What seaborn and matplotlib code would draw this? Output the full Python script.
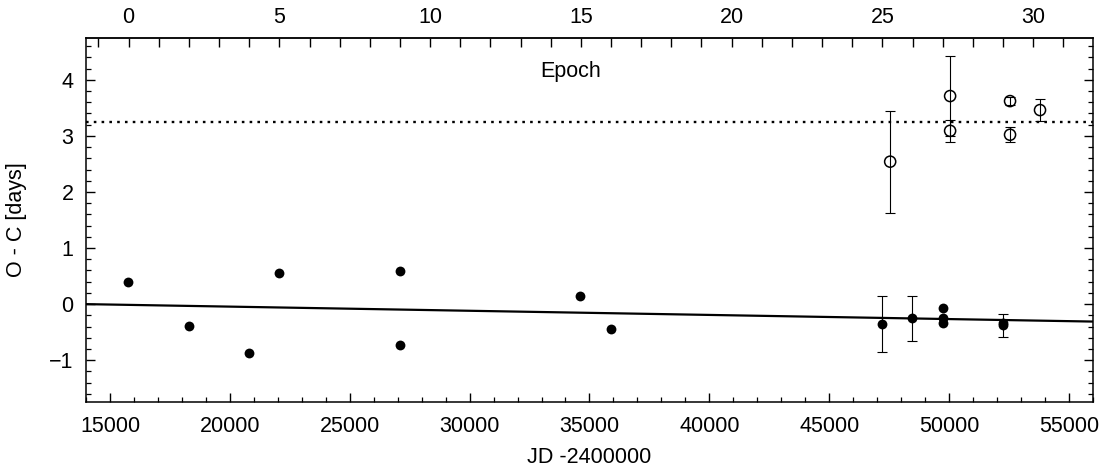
import numpy as np
import matplotlib
matplotlib.use("Agg")
import matplotlib.pyplot as plt
from matplotlib.ticker import MultipleLocator, FixedLocator
import seaborn as sns

# ── data (JD - 2400000, O-C in days) ─────────────────────────
filled_jd = [15763, 18292, 20804, 22054, 27083, 27083, 34625, 35904,
             47221, 48471, 49763, 49763, 49763, 52250, 52250]
filled_oc = [0.39, -0.39, -0.87, 0.55, 0.59, -0.72, 0.15, -0.45,
             -0.35, -0.25, -0.07, -0.24, -0.34, -0.34, -0.38]
filled_err = [0, 0, 0, 0, 0, 0, 0, 0,
              0.50, 0.40, 0, 0, 0, 0, 0.20]

open_jd = [47542, 50042, 50042, 52542, 52542, 53792]
open_oc = [2.54, 3.71, 3.09, 3.62, 3.02, 3.46]
open_err = [0.91, 0.72, 0.20, 0.07, 0.13, 0.20]

# linear ephemeris fit and mean level of the open points
fit_jd = [14000, 56000]
fit_slope = -7.4e-6
fit_zero = 14000
mean_open = 3.25

# epoch scale on the top axis
epoch_t0 = 15779
period = 1257.5
epoch_labels = [0, 5, 10, 15, 20, 25, 30]

# ── style ────────────────────────────────────────────────────
sns.set_theme(style="ticks")
plt.rcParams['font.family'] = ['Liberation Sans', 'DejaVu Sans']
plt.rcParams.update({'font.size': 15.5,
                     'text.color': 'black',
                     'axes.labelcolor': 'black',
                     'xtick.color': 'black',
                     'ytick.color': 'black',
                     'axes.linewidth': 1.1,
                     'xtick.direction': 'in',
                     'ytick.direction': 'in'})

fig = plt.figure(figsize=(11.05, 4.72), dpi=100)
ax = fig.add_axes([0.0778, 0.1477, 0.9113, 0.7724])

# fitted line
fit_oc = [fit_slope * (x - fit_zero) for x in fit_jd]
sns.lineplot(x=fit_jd, y=fit_oc, ax=ax, color='black', lw=1.6)
ax.axhline(mean_open, color='black', lw=1.7, ls=(0, (1.1, 2.2)))

# error bars
ferr = np.array(filled_err)
mask = ferr > 0
ax.errorbar(np.array(filled_jd)[mask], np.array(filled_oc)[mask],
            yerr=ferr[mask], fmt='none', ecolor='black',
            elinewidth=0.8, capsize=3.8, capthick=0.8)
ax.errorbar(open_jd, open_oc, yerr=open_err, fmt='none', ecolor='black',
            elinewidth=0.8, capsize=3.8, capthick=0.8)

# points
sns.scatterplot(x=filled_jd, y=filled_oc, ax=ax, color='black',
                s=50, edgecolor='black', linewidth=0, zorder=3)
sns.scatterplot(x=open_jd, y=open_oc, ax=ax, facecolors='none',
                edgecolor='black', s=64, linewidth=1.1, marker='o', zorder=3)

ax.set_xlim(14000, 56000)
ax.set_ylim(-1.75, 4.75)
ax.xaxis.set_major_locator(MultipleLocator(5000))
ax.xaxis.set_minor_locator(MultipleLocator(1000))
ax.yaxis.set_major_locator(MultipleLocator(1))
ax.yaxis.set_minor_locator(MultipleLocator(0.2))
ax.tick_params(which='both', right=True, top=False, labelsize=15.5)
ax.tick_params(axis='x', which='major', length=6.5, width=1.0, pad=10)
ax.tick_params(axis='y', which='major', length=6.5, width=1.0, pad=9)
ax.tick_params(which='minor', length=3.3, width=0.9)
ax.set_xlabel('JD -2400000', fontsize=15.5, labelpad=7)
ax.set_ylabel('O - C [days]', fontsize=15.5, labelpad=16)

top = ax.secondary_xaxis('top',
                         functions=(lambda x: (x - epoch_t0) / period,
                                    lambda e: e * period + epoch_t0))
top.xaxis.set_major_locator(FixedLocator(epoch_labels))
top.xaxis.set_minor_locator(MultipleLocator(1))
top.tick_params(which='both', direction='in', length=6.5, width=1.0,
                labelsize=15.5, pad=7)
top.spines['top'].set_linewidth(1.1)
ax.text(0.481, 0.906, 'Epoch', transform=ax.transAxes, ha='center',
        va='center', fontsize=15.5)

for s in ax.spines.values():
    s.set_visible(True)
    s.set_color('black')

fig.savefig('out.png', dpi=100, facecolor='white')
